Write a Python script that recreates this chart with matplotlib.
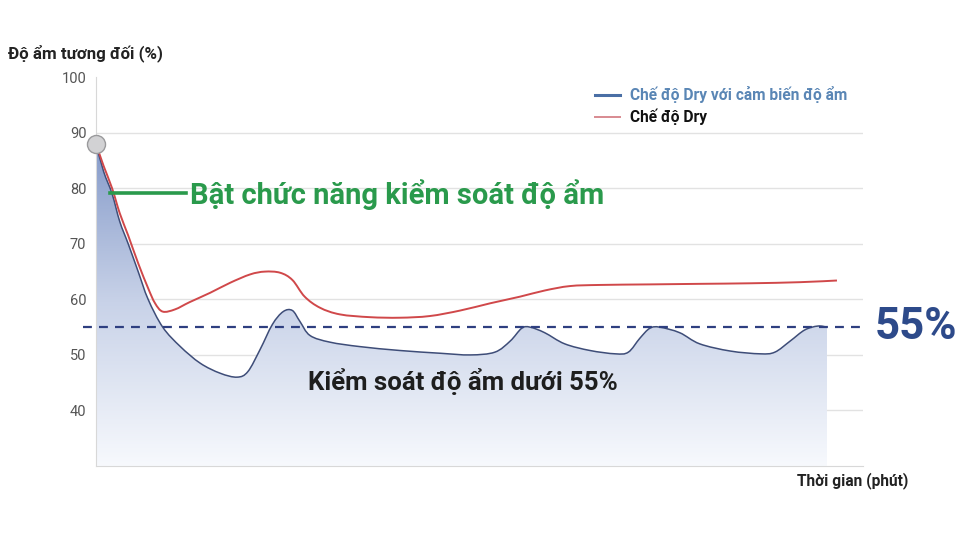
import matplotlib
matplotlib.use('Agg')
import matplotlib.pyplot as plt
import numpy as np
from matplotlib.colors import LinearSegmentedColormap
from matplotlib.path import Path
from matplotlib.patches import PathPatch

plt.rcParams['font.family'] = ['Roboto', 'DejaVu Sans']

# time axis in arbitrary units (0..100 spans the axis)
t_sensor = [0, 1.0, 2.1, 3.1, 4.2, 5.5, 6.8, 8.7, 11.0, 13.6, 16.2, 18.4, 19.8, 21.4,
            23.0, 24.4, 25.6, 26.6, 27.9, 30.5, 34.4, 39.6, 44.9, 48.8, 52.0, 54.0,
            55.5, 56.6, 58.5, 61.1, 64.4, 67.7, 69.4, 70.9, 72.2, 73.5, 76.1, 78.7,
            82.7, 86.6, 88.5, 90.5, 92.4, 94.1, 95.3]
h_sensor = [88, 83, 79, 74, 70, 65, 60, 55, 51.5, 48.5, 46.7, 46.0, 47, 51,
            55.5, 57.8, 58, 56, 53.5, 52.3, 51.5, 50.8, 50.3, 50, 50.5, 52.5,
            54.8, 55, 54, 52, 50.8, 50.2, 50.5, 53, 54.8, 55, 54, 52,
            50.7, 50.2, 50.5, 52.5, 54.5, 55.2, 55]

t_dry = [0, 1.0, 2.1, 3.1, 4.2, 5.5, 6.8, 7.7, 8.7, 10.3, 12.2, 14.9, 17.5, 20.1,
         22.0, 24.0, 25.6, 27.2, 29.2, 31.8, 35.7, 39.6, 43.5, 47.5, 51.4, 55.3,
         58.5, 61.8, 65.7, 72.2, 78.7, 85.3, 91.8, 96.6]
h_dry = [88, 84, 80, 75.5, 71.5, 66.5, 62, 59.3, 57.8, 58.2, 59.5, 61.2, 63, 64.5,
         65, 64.8, 63.5, 60.5, 58.5, 57.3, 56.8, 56.7, 57, 58, 59.3, 60.5,
         61.6, 62.4, 62.6, 62.7, 62.8, 62.9, 63.1, 63.4]

threshold = 55
y_ticks = [40, 50, 60, 70, 80, 90, 100]


def smooth_path(xs, ys):
    # catmull-rom through the points, as cubic bezier segments
    p = np.column_stack([xs, ys]).astype(float)
    verts = [p[0]]
    codes = [Path.MOVETO]
    n = len(p)
    for i in range(n - 1):
        p0 = p[i - 1] if i > 0 else p[i]
        p3 = p[i + 2] if i + 2 < n else p[i + 1]
        c1 = p[i] + (p[i + 1] - p0) / 6
        c2 = p[i + 1] - (p3 - p[i]) / 6
        verts += [c1, c2, p[i + 1]]
        codes += [Path.CURVE4] * 3
    return verts, codes


fig = plt.figure(figsize=(9.6, 5.4), dpi=100)
ax = fig.add_axes([0.1, 0.137, 0.799, 0.72])
ax.set_xlim(0, 100)
ax.set_ylim(30, 100)

sv, sc = smooth_path(t_sensor, h_sensor)
dv, dc = smooth_path(t_dry, h_dry)

# gradient fill under the sensor curve
fv = sv + [(t_sensor[-1], 30), (t_sensor[0], 30), (t_sensor[0], 30)]
fc = sc + [Path.LINETO, Path.LINETO, Path.CLOSEPOLY]
fill_patch = PathPatch(Path(fv, fc), facecolor='none', edgecolor='none',
                       transform=ax.transData)
ax.add_patch(fill_patch)
cmap = LinearSegmentedColormap.from_list('g', ['#f7f9fd', '#c8d2e8', '#8298c8'])
grad = np.linspace(0, 1, 256).reshape(-1, 1)
im = ax.imshow(grad, cmap=cmap, origin='lower', aspect='auto',
               extent=[0, t_sensor[-1], 30, 89], zorder=1)
im.set_clip_path(fill_patch)

ax.add_patch(PathPatch(Path(sv, sc), fill=False, edgecolor='#3e4d78', lw=1.1,
                       zorder=3))
ax.add_patch(PathPatch(Path(dv, dc), fill=False, edgecolor='#d0484a', lw=1.4,
                       zorder=4))
ax.plot([t_sensor[0]], [h_sensor[0]], 'o', ms=13, mfc='#d2d2d4', mec='#9a9a9c',
        mew=1, zorder=6, clip_on=False)

ax.plot([-1.7, 100], [threshold, threshold], ls=(0, (4, 3.2)), color='#2e3f80',
        lw=1.6, zorder=5, clip_on=False)

ax.set_yticks(y_ticks)
ax.set_xticks([])
ax.grid(axis='y', color='#e2e2e2', lw=1)
ax.set_axisbelow(True)
for s in ['top', 'right']:
    ax.spines[s].set_visible(False)
ax.spines['left'].set_color('#d8d8d8')
ax.spines['bottom'].set_color('#d8d8d8')
ax.tick_params(axis='y', length=0, labelsize=10.5, labelcolor='#555555', pad=7)
ax.yaxis.get_gridlines()[-1].set_visible(False)

# legend drawn by hand
ax.plot([65.1, 68.3], [96.8, 96.8], color='#4a6fa5', lw=2.2, clip_on=False)
ax.plot([65.1, 68.3], [92.8, 92.8], color='#d88a90', lw=1.4, clip_on=False)
ax.text(69.6, 96.8, 'Chế độ Dry với cảm biến độ ẩm', color='#5a86b5',
        fontsize=11.2, fontweight='bold', va='center')
ax.text(69.6, 92.8, 'Chế độ Dry', color='#111111', fontsize=11.2,
        fontweight='bold', va='center')

# annotations
ax.plot([1.8, 11.7], [79.2, 79.2], color='#2a9a4c', lw=2.6, zorder=5)
ax.text(12.3, 78.9, 'Bật chức năng kiểm soát độ ẩm', color='#2a9a4c',
        fontsize=21, fontweight='bold', va='center')
ax.text(27.6, 45.2, 'Kiểm soát độ ẩm dưới 55%', color='#1e1e1e',
        fontsize=18.5, fontweight='bold', va='center', zorder=6)
ax.text(101.5, threshold, '55%', color='#2d4a8a', fontsize=31.5,
        fontweight='bold', va='center', clip_on=False)

fig.text(0.008, 0.902, 'Độ ẩm tương đối (%)', fontsize=12.2, fontweight='bold',
         color='#222222', va='center')
fig.text(0.83, 0.111, 'Thời gian (phút)', fontsize=11.2, fontweight='bold',
         color='#222222', va='center')

fig.savefig('out.png', dpi=100)
